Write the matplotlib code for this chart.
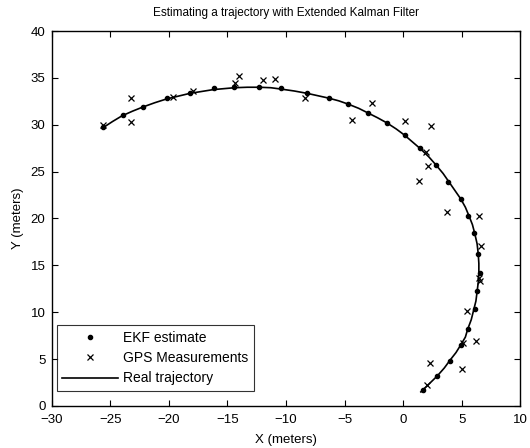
import numpy as np
import matplotlib.pyplot as plt

plt.rcParams["font.family"] = ["Liberation Sans", "DejaVu Sans"]

# EKF estimates (x, y) in meters
ekf_x = [1.65, 2.9, 3.96, 4.96, 5.53, 6.09, 6.32, 6.55, 6.38, 6.0, 5.5, 4.9, 3.82, 2.79,
         1.4, 0.14, -1.43, -3.02, -4.7, -6.35, -8.21, -10.4, -12.28, -14.42, -16.15,
         -18.23, -20.17, -22.22, -23.93, -25.58]
ekf_y = [1.75, 3.2, 4.8, 6.5, 8.25, 10.35, 12.3, 14.2, 16.2, 18.5, 20.3, 22.1, 23.9, 25.75,
         27.5, 28.9, 30.2, 31.25, 32.2, 32.8, 33.35, 33.9, 34.05, 34.05, 33.9,
         33.4, 32.8, 31.9, 31.0, 29.75]

# GPS measurements
gps_x = [1.99, 5.0, 2.25, 5.1, 6.18, 5.47, 6.55, 6.47, 6.6, 6.47, 3.73, 1.34, 2.11, 1.97,
         2.39, 0.17, -2.65, -4.39, -8.35, -10.97, -11.97, -14.4, -14.0, -17.9, -19.66,
         -23.27, -23.27, -25.58]
gps_y = [2.2, 3.9, 4.55, 6.7, 6.95, 10.1, 13.3, 13.7, 17.1, 20.3, 20.7, 24.0, 25.6, 27.1,
         29.9, 30.4, 32.3, 30.5, 32.8, 34.9, 34.75, 34.4, 35.2, 33.6, 33.0,
         30.3, 32.8, 30.0]

# real trajectory
real_x = [1.5, 2.2, 2.9, 3.5, 4.0, 4.5, 4.9, 5.3, 5.5, 5.8, 6.0, 6.2, 6.3, 6.4, 6.45, 6.45,
          6.4, 6.3, 6.1, 5.9, 5.6, 5.3, 4.9, 4.4, 3.9, 3.4, 2.8, 2.2, 1.5, 0.8, 0.1,
          -0.6, -1.4, -2.2, -3.0, -3.8, -4.7, -5.5, -6.4, -7.3, -8.2, -9.3, -10.4, -11.3,
          -12.3, -13.3, -14.4, -15.3, -16.2, -17.2, -18.2, -19.2, -20.2, -21.2, -22.2,
          -23.1, -24.0, -24.8, -25.6]
real_y = [1.5, 2.35, 3.2, 4.05, 4.9, 5.7, 6.5, 7.35, 8.2, 9.2, 10.2, 11.2, 12.2, 13.2, 14.2, 15.2,
          16.2, 17.3, 18.4, 19.35, 20.3, 21.2, 22.1, 23.0, 23.9, 24.8, 25.7, 26.55, 27.4, 28.15, 28.9,
          29.55, 30.2, 30.75, 31.25, 31.75, 32.2, 32.55, 32.85, 33.1, 33.35, 33.6, 33.8, 33.95,
          34.0, 34.0, 33.95, 33.85, 33.75, 33.55, 33.35, 33.05, 32.75, 32.35, 31.9,
          31.45, 30.95, 30.35, 29.7]

fig = plt.figure(figsize=(5.3, 4.48), dpi=100)
ax = fig.add_axes([0.0975, 0.0938, 0.8845, 0.837])

ax.plot(ekf_x, ekf_y, ".", color="black", markersize=6, label="EKF estimate")
ax.plot(gps_x, gps_y, "x", color="black", markersize=4.5, markeredgewidth=0.9,
        label="GPS Measurements")
ax.plot(real_x, real_y, "-", color="black", linewidth=1.2, label="Real trajectory")

ax.set_xlim(-30, 10)
ax.set_ylim(0, 40)
ax.set_xticks(np.arange(-30, 11, 5))
ax.set_yticks(np.arange(0, 41, 5))
ax.tick_params(direction="in", top=True, right=True, labelsize=9.5, length=4, width=0.8)
ax.tick_params(axis="x", pad=6)
ax.tick_params(axis="y", pad=4.5)
for s in ax.spines.values():
    s.set_linewidth(1.0)

ax.set_title("Estimating a trajectory with Extended Kalman Filter", fontsize=8.5, pad=10.5)
ax.set_xlabel("X (meters)", fontsize=9.5, labelpad=5.5)
ax.set_ylabel("Y (meters)", fontsize=9.5, labelpad=5)

leg = ax.legend(loc="lower left", bbox_to_anchor=(0.0107, 0.04), borderaxespad=0,
                fontsize=10, frameon=True, fancybox=False, edgecolor="black",
                handlelength=4.0, handletextpad=0.4, borderpad=0.4,
                labelspacing=0.45)
leg.get_frame().set_linewidth(0.8)

fig.savefig("out.png", dpi=100)
